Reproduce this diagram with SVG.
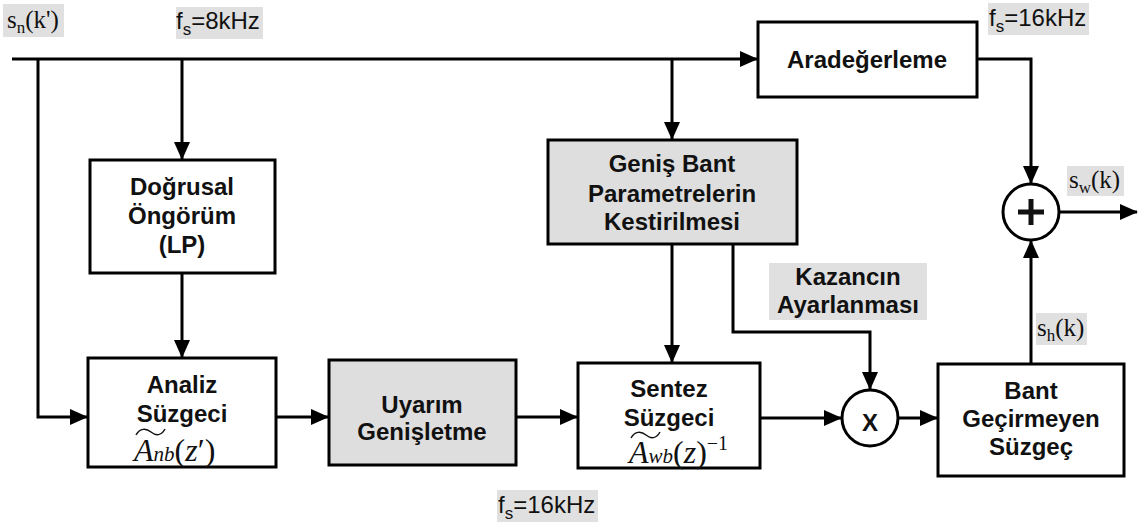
<svg xmlns="http://www.w3.org/2000/svg" width="1139" height="525" viewBox="0 0 1139 525">
<style>
.box{fill:#fff;stroke:#000;stroke-width:3}
.gbox{fill:#dedede;stroke:#000;stroke-width:3}
.bg{fill:#e0e0e0;stroke:none}
.t{font-family:"Liberation Sans",Arial,sans-serif;font-weight:bold;font-size:24px;text-anchor:middle;fill:#111}
.lbl{font-family:"Liberation Sans",Arial,sans-serif;font-size:24px;fill:#111}
.ser{font-family:"Liberation Serif","Times New Roman",serif;font-size:25px;fill:#111}
.m{font-family:"Liberation Serif","Times New Roman",serif;font-style:italic;fill:#111}
.ln{fill:none;stroke:#000;stroke-width:3}
.tl{fill:none;stroke:#111;stroke-width:1.5}
</style>
<defs>
<marker id="ah" markerUnits="userSpaceOnUse" markerWidth="18" markerHeight="16" refX="17" refY="8" orient="auto">
<path d="M0,0 L18,8 L0,16 Z" fill="#000"/>
</marker>
</defs>

<g id="labels">
<rect class="bg" x="3" y="4" width="61" height="33"/>
<text class="ser" x="7" y="28">s<tspan font-size="17" dy="5">n</tspan><tspan dy="-5">(k')</tspan></text>
<rect class="bg" x="176" y="7" width="87" height="32"/>
<text class="lbl" x="176" y="29">f<tspan font-size="17" dy="6">s</tspan><tspan dy="-6">=8kHz</tspan></text>
<rect class="bg" x="988" y="3" width="101" height="32"/>
<text class="lbl" x="989" y="26">f<tspan font-size="17" dy="6">s</tspan><tspan dy="-6">=16kHz</tspan></text>
<rect class="bg" x="497" y="490" width="101" height="32"/>
<text class="lbl" x="498" y="513">f<tspan font-size="17" dy="6">s</tspan><tspan dy="-6">=16kHz</tspan></text>
<rect class="bg" x="1067" y="166" width="57" height="30"/>
<text class="ser" x="1069" y="188">s<tspan font-size="17" dy="5">w</tspan><tspan dy="-5">(k)</tspan></text>
<rect class="bg" x="1036" y="313" width="51" height="32"/>
<text class="ser" x="1037" y="336">s<tspan font-size="17" dy="5">h</tspan><tspan dy="-5">(k)</tspan></text>
<rect class="bg" x="769" y="263" width="158" height="57"/>
<text class="t" x="848" y="285">Kazancın</text>
<text class="t" x="848" y="313">Ayarlanması</text>
</g>

<g id="connectors">
<path class="ln" d="M12,59 H757" marker-end="url(#ah)"/>
<path class="ln" d="M182,59 V159" marker-end="url(#ah)"/>
<path class="ln" d="M672,59 V139" marker-end="url(#ah)"/>
<path class="ln" d="M38,59 V417 H87" marker-end="url(#ah)"/>
<path class="ln" d="M182,273 V357" marker-end="url(#ah)"/>
<path class="ln" d="M276,417 H328" marker-end="url(#ah)"/>
<path class="ln" d="M516,417 H577" marker-end="url(#ah)"/>
<path class="ln" d="M672,244 V362" marker-end="url(#ah)"/>
<path class="ln" d="M760,418 H841" marker-end="url(#ah)"/>
<path class="ln" d="M733,244 V332 H870 V389" marker-end="url(#ah)"/>
<path class="ln" d="M899,418 H937" marker-end="url(#ah)"/>
<path class="ln" d="M1031,364 V241" marker-end="url(#ah)"/>
<path class="ln" d="M977,59 H1031 V183" marker-end="url(#ah)"/>
<path class="ln" d="M1060,212 H1137" marker-end="url(#ah)"/>
</g>

<g id="aradegerleme">
<rect class="box" x="758" y="22" width="219" height="75"/>
<text class="t" x="867" y="68">Aradeğerleme</text>
</g>

<g id="dogrusal">
<rect class="box" x="90" y="160" width="185" height="113"/>
<text class="t" x="182" y="195">Doğrusal</text>
<text class="t" x="182" y="224">Öngörüm</text>
<text class="t" x="182" y="253">(LP)</text>
</g>

<g id="genis">
<rect class="gbox" x="548" y="140" width="249" height="104"/>
<text class="t" x="672" y="172">Geniş Bant</text>
<text class="t" x="672" y="202">Parametrelerin</text>
<text class="t" x="672" y="230">Kestirilmesi</text>
</g>

<g id="analiz">
<rect class="box" x="88" y="358" width="188" height="109"/>
<text class="t" x="182" y="393">Analiz</text>
<text class="t" x="182" y="422">Süzgeci</text>
<text class="m" x="134" y="461" font-size="32">A<tspan font-size="21">nb</tspan><tspan font-style="normal">(</tspan>z<tspan font-style="normal">′)</tspan></text>
<path class="tl" d="M136,435 C140,428 146,428 151,432 S161,436 165,429"/>
</g>

<g id="uyarim">
<rect class="gbox" x="329" y="360" width="187" height="105"/>
<text class="t" x="422" y="413">Uyarım</text>
<text class="t" x="422" y="440">Genişletme</text>
</g>

<g id="sentez">
<rect class="box" x="578" y="363" width="182" height="105"/>
<text class="t" x="669" y="397">Sentez</text>
<text class="t" x="669" y="426">Süzgeci</text>
<text class="m" x="629" y="463" font-size="32">A<tspan font-size="21">wb</tspan><tspan font-style="normal">(</tspan>z<tspan font-style="normal">)</tspan><tspan font-style="normal" font-size="20" dy="-13">−1</tspan></text>
<path class="tl" d="M631,438 C635,431 641,431 646,435 S656,439 660,432"/>
</g>

<g id="carpim">
<circle cx="870" cy="418" r="28" fill="#fff" stroke="#000" stroke-width="3"/>
<text class="t" x="870" y="431" font-size="36">X</text>
</g>

<g id="bant">
<rect class="box" x="938" y="364" width="186" height="112"/>
<text class="t" x="1031" y="399">Bant</text>
<text class="t" x="1031" y="427">Geçirmeyen</text>
<text class="t" x="1031" y="455">Süzgeç</text>
</g>

<g id="toplam">
<circle cx="1031" cy="212" r="28" fill="#fff" stroke="#000" stroke-width="3"/>
<path d="M1031,199 V225 M1018,212 H1044" stroke="#111" stroke-width="5" fill="none"/>
</g>
</svg>
